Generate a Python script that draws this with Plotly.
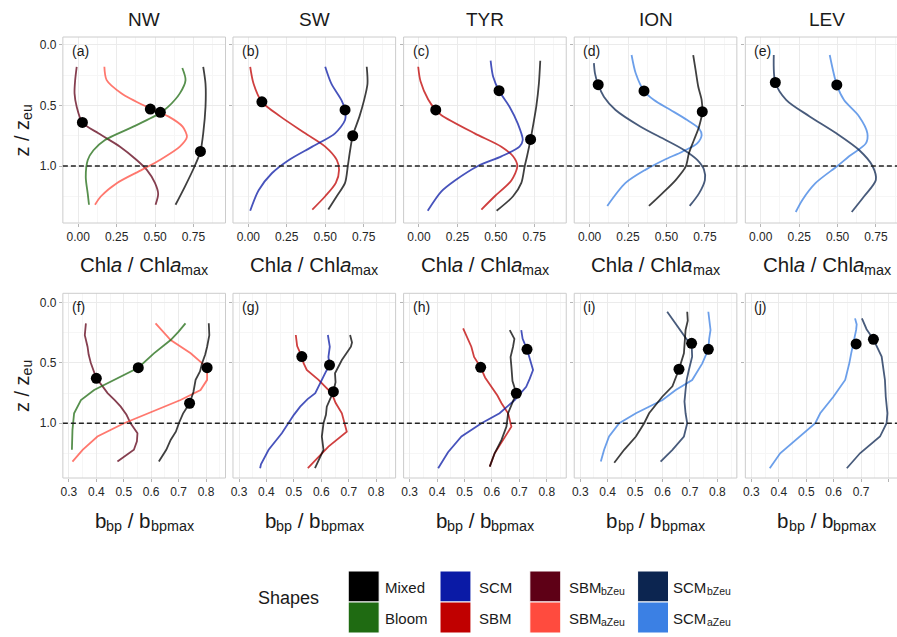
import plotly.graph_objects as go

W, H = 897, 637

# ---------------- categories / labels ----------------
regions = ["NW", "SW", "TYR", "ION", "LEV"]
tags_top = ["(a)", "(b)", "(c)", "(d)", "(e)"]
tags_bot = ["(f)", "(g)", "(h)", "(i)", "(j)"]

shape_names = ["Mixed", "Bloom", "SCM", "SBM", "SBMbZeu", "SBMaZeu", "SCMbZeu", "SCMaZeu"]
# (main text, subscript text) for each legend entry
shape_label_parts = [("Mixed", ""), ("Bloom", ""), ("SCM", ""), ("SBM", ""),
                     ("SBM", "bZeu"), ("SBM", "aZeu"), ("SCM", "bZeu"), ("SCM", "aZeu")]
shape_colors = {
    "Mixed": "#000000", "Bloom": "#1f6b12", "SCM": "#0a1aa6", "SBM": "#c00000",
    "SBMbZeu": "#5e0016", "SBMaZeu": "#ff4b3e", "SCMbZeu": "#0c2550", "SCMaZeu": "#3b80e4",
}

y_ticks = [0.0, 0.5, 1.0]
y_ticktext = ["0.0", "0.5", "1.0"]
x_ticks_top = [0.0, 0.25, 0.5, 0.75]
x_ticktext_top = ["0.00", "0.25", "0.50", "0.75"]
x_ticks_bot = [0.3, 0.4, 0.5, 0.6, 0.7, 0.8]
x_ticktext_bot = ["0.3", "0.4", "0.5", "0.6", "0.7", "0.8"]

# ---------------- Chla / Chla_max profiles (top row) ----------------
# NW (a)
nw_chl_mixed_z = [0.18, 0.32, 0.51, 0.73, 0.88, 1.0, 1.17, 1.32]
nw_chl_mixed_x = [0.813, 0.828, 0.828, 0.813, 0.795, 0.758, 0.694, 0.633]
nw_chl_mixed_dot = (0.795, 0.88)
nw_chl_bloom_z = [0.19, 0.29, 0.40, 0.51, 0.565, 0.675, 0.785, 0.87, 0.95, 1.09, 1.23, 1.32]
nw_chl_bloom_x = [0.677, 0.698, 0.661, 0.586, 0.531, 0.358, 0.174, 0.099, 0.062, 0.049, 0.062, 0.07]
nw_chl_bloom_dot = (0.534, 0.556)
nw_chl_sbma_z = [0.18, 0.29, 0.40, 0.51, 0.59, 0.675, 0.76, 0.84, 0.95, 1.03, 1.14, 1.25, 1.32]
nw_chl_sbma_x = [0.170, 0.185, 0.282, 0.445, 0.586, 0.679, 0.707, 0.661, 0.531, 0.416, 0.253, 0.148, 0.109]
nw_chl_sbma_dot = (0.469, 0.53)
nw_chl_sbmb_z = [0.18, 0.29, 0.40, 0.51, 0.64, 0.73, 0.84, 0.95, 1.03, 1.14, 1.23, 1.32]
nw_chl_sbmb_x = [-0.01, -0.02, -0.024, -0.01, 0.027, 0.131, 0.272, 0.38, 0.445, 0.499, 0.52, 0.503]
nw_chl_sbmb_dot = (0.027, 0.64)

# SW (b)
sw_chl_sbm_z = [0.18, 0.32, 0.47, 0.59, 0.73, 0.84, 0.95, 1.03, 1.14, 1.25, 1.36]
sw_chl_sbm_x = [0.012, 0.034, 0.088, 0.207, 0.37, 0.50, 0.575, 0.59, 0.569, 0.50, 0.416]
sw_chl_sbm_dot = (0.088, 0.47)
sw_chl_scm_z = [0.18, 0.32, 0.46, 0.537, 0.62, 0.73, 0.84, 0.95, 1.06, 1.20, 1.37]
sw_chl_scm_x = [0.50, 0.54, 0.607, 0.629, 0.629, 0.564, 0.416, 0.264, 0.153, 0.067, 0.012]
sw_chl_scm_dot = (0.629, 0.537)
sw_chl_mixed_z = [0.18, 0.32, 0.46, 0.59, 0.75, 0.87, 1.0, 1.14, 1.25, 1.36]
sw_chl_mixed_x = [0.77, 0.775, 0.752, 0.723, 0.679, 0.662, 0.647, 0.629, 0.575, 0.52]
sw_chl_mixed_dot = (0.679, 0.75)

# TYR (c)
tyr_chl_sbm_z = [0.18, 0.30, 0.45, 0.537, 0.58, 0.73, 0.84, 0.92, 1.0, 1.12, 1.25, 1.36]
tyr_chl_sbm_x = [-0.005, 0.01, 0.06, 0.109, 0.146, 0.362, 0.536, 0.612, 0.64, 0.601, 0.493, 0.406]
tyr_chl_sbm_dot = (0.109, 0.537)
tyr_chl_scm_z = [0.13, 0.26, 0.378, 0.51, 0.65, 0.785, 0.84, 0.92, 1.0, 1.12, 1.21, 1.37]
tyr_chl_scm_x = [0.466, 0.482, 0.521, 0.589, 0.643, 0.675, 0.654, 0.536, 0.384, 0.234, 0.146, 0.057]
tyr_chl_scm_dot = (0.521, 0.378)
tyr_chl_mixed_z = [0.13, 0.32, 0.51, 0.675, 0.78, 0.92, 1.0, 1.14, 1.25, 1.37]
tyr_chl_mixed_x = [0.789, 0.78, 0.763, 0.741, 0.726, 0.703, 0.688, 0.666, 0.612, 0.505]
tyr_chl_mixed_dot = (0.726, 0.78)

# ION (d)
ion_chl_scmb_z = [0.15, 0.234, 0.328, 0.427, 0.537, 0.675, 0.785, 0.868, 0.95, 1.03, 1.116, 1.226, 1.33]
ion_chl_scmb_x = [0.028, 0.035, 0.056, 0.093, 0.169, 0.332, 0.495, 0.614, 0.70, 0.744, 0.75, 0.712, 0.651]
ion_chl_scmb_dot = (0.056, 0.328)
ion_chl_scma_z = [0.083, 0.234, 0.38, 0.455, 0.537, 0.62, 0.69, 0.744, 0.813, 0.882, 0.95, 1.03, 1.14, 1.33]
ion_chl_scma_x = [0.273, 0.30, 0.354, 0.419, 0.527, 0.635, 0.712, 0.729, 0.70, 0.603, 0.484, 0.365, 0.234, 0.115]
ion_chl_scma_dot = (0.354, 0.38)
ion_chl_mixed_z = [0.083, 0.21, 0.345, 0.455, 0.551, 0.675, 0.785, 0.895, 1.006, 1.116, 1.226, 1.33]
ion_chl_mixed_x = [0.674, 0.69, 0.707, 0.729, 0.733, 0.712, 0.679, 0.646, 0.625, 0.56, 0.473, 0.386]
ion_chl_mixed_dot = (0.733, 0.551)

# LEV (e)
lev_chl_scmb_z = [0.083, 0.31, 0.455, 0.59, 0.73, 0.868, 1.0, 1.116, 1.25, 1.38]
lev_chl_scmb_x = [0.085, 0.095, 0.167, 0.318, 0.492, 0.64, 0.727, 0.749, 0.673, 0.592]
lev_chl_scmb_dot = (0.095, 0.31)
lev_chl_scma_z = [0.083, 0.33, 0.455, 0.59, 0.73, 0.813, 0.92, 1.0, 1.14, 1.28, 1.38]
lev_chl_scma_x = [0.449, 0.495, 0.542, 0.64, 0.694, 0.684, 0.575, 0.499, 0.358, 0.271, 0.228]
lev_chl_scma_dot = (0.495, 0.33)

# ---------------- bbp / bbp_max profiles (bottom row) ----------------
# NW (f)
nw_bbp_sbmb_z = [0.171, 0.27, 0.365, 0.43, 0.50, 0.627, 0.70, 0.75, 0.81, 0.862, 0.93, 1.0, 1.083, 1.15, 1.22, 1.318]
nw_bbp_sbmb_x = [0.362, 0.358, 0.368, 0.372, 0.38, 0.40, 0.425, 0.441, 0.468, 0.489, 0.51, 0.525, 0.55, 0.548, 0.537, 0.477]
nw_bbp_sbmb_dot = (0.40, 0.627)
nw_bbp_bloom_z = [0.171, 0.24, 0.31, 0.42, 0.539, 0.64, 0.724, 0.807, 0.917, 1.055, 1.22]
nw_bbp_bloom_x = [0.725, 0.70, 0.671, 0.61, 0.553, 0.465, 0.392, 0.344, 0.319, 0.313, 0.311]
nw_bbp_bloom_dot = (0.553, 0.539)
nw_bbp_sbma_z = [0.171, 0.31, 0.42, 0.539, 0.64, 0.724, 0.807, 0.917, 1.0, 1.11, 1.22, 1.318]
nw_bbp_sbma_x = [0.616, 0.671, 0.744, 0.804, 0.804, 0.78, 0.707, 0.586, 0.501, 0.404, 0.35, 0.313]
nw_bbp_sbma_dot = (0.804, 0.539)
nw_bbp_mixed_z = [0.171, 0.27, 0.365, 0.43, 0.50, 0.57, 0.64, 0.74, 0.834, 0.92, 1.0, 1.07, 1.138, 1.22, 1.318]
nw_bbp_mixed_x = [0.81, 0.812, 0.804, 0.797, 0.786, 0.778, 0.762, 0.754, 0.74, 0.716, 0.701, 0.69, 0.671, 0.655, 0.628]
nw_bbp_mixed_dot = (0.74, 0.834)

# SW (g)
sw_bbp_sbm_z = [0.268, 0.36, 0.447, 0.50, 0.558, 0.64, 0.751, 0.83, 0.917, 1.07, 1.194, 1.373]
sw_bbp_sbm_x = [0.507, 0.512, 0.529, 0.535, 0.547, 0.59, 0.638, 0.652, 0.675, 0.693, 0.626, 0.551]
sw_bbp_sbm_dot = (0.529, 0.447)
sw_bbp_scm_z = [0.268, 0.365, 0.45, 0.517, 0.58, 0.64, 0.751, 0.80, 0.862, 0.93, 0.973, 1.083, 1.22, 1.34, 1.373]
sw_bbp_scm_x = [0.624, 0.631, 0.626, 0.63, 0.615, 0.602, 0.578, 0.55, 0.523, 0.50, 0.487, 0.456, 0.408, 0.38, 0.377]
sw_bbp_scm_dot = (0.63, 0.517)
sw_bbp_mixed_z = [0.268, 0.33, 0.365, 0.475, 0.585, 0.66, 0.738, 0.862, 0.93, 1.0, 1.11, 1.22, 1.373]
sw_bbp_mixed_x = [0.705, 0.712, 0.708, 0.675, 0.65, 0.652, 0.644, 0.62, 0.617, 0.608, 0.602, 0.608, 0.577]
sw_bbp_mixed_dot = (0.644, 0.738)

# TYR (h)
tyr_bbp_sbm_z = [0.213, 0.29, 0.365, 0.45, 0.536, 0.62, 0.697, 0.77, 0.834, 0.917, 1.028, 1.138, 1.249, 1.36]
tyr_bbp_sbm_x = [0.495, 0.51, 0.525, 0.535, 0.559, 0.575, 0.598, 0.62, 0.635, 0.659, 0.671, 0.641, 0.61, 0.592]
tyr_bbp_sbm_dot = (0.559, 0.536)
tyr_bbp_mixed_z = [0.227, 0.30, 0.365, 0.45, 0.53, 0.65, 0.751, 0.84, 0.917, 1.028, 1.138, 1.249, 1.36]
tyr_bbp_mixed_x = [0.665, 0.682, 0.677, 0.668, 0.671, 0.675, 0.689, 0.672, 0.659, 0.653, 0.635, 0.61, 0.592]
tyr_bbp_mixed_dot = (0.689, 0.751)
tyr_bbp_scm_z = [0.227, 0.30, 0.387, 0.47, 0.558, 0.63, 0.697, 0.807, 0.917, 1.0, 1.11, 1.24, 1.373]
tyr_bbp_scm_x = [0.707, 0.712, 0.728, 0.74, 0.75, 0.738, 0.725, 0.683, 0.628, 0.562, 0.489, 0.44, 0.404]
tyr_bbp_scm_dot = (0.728, 0.387)

# ION (i)
ion_bbp_scma_z = [0.075, 0.15, 0.226, 0.30, 0.387, 0.503, 0.641, 0.724, 0.807, 0.917, 1.0, 1.11, 1.22, 1.318]
ion_bbp_scma_x = [0.767, 0.772, 0.775, 0.77, 0.767, 0.745, 0.708, 0.648, 0.60, 0.503, 0.442, 0.405, 0.387, 0.375]
ion_bbp_scma_dot = (0.767, 0.387)
ion_bbp_mixed_z = [0.075, 0.15, 0.226, 0.32, 0.42, 0.552, 0.694, 0.78, 0.917, 1.0, 1.11, 1.22, 1.327]
ion_bbp_mixed_x = [0.69, 0.692, 0.684, 0.682, 0.678, 0.66, 0.636, 0.599, 0.551, 0.533, 0.503, 0.46, 0.424]
ion_bbp_mixed_dot = (0.66, 0.552)
ion_bbp_scmb_z = [0.075, 0.199, 0.31, 0.337, 0.447, 0.558, 0.64, 0.724, 0.82, 0.917, 1.0, 1.11, 1.22, 1.318]
ion_bbp_scmb_x = [0.617, 0.654, 0.69, 0.706, 0.708, 0.696, 0.688, 0.684, 0.68, 0.684, 0.69, 0.678, 0.636, 0.593]
ion_bbp_scmb_dot = (0.706, 0.337)

# LEV (j)
lev_bbp_scma_z = [0.13, 0.18, 0.226, 0.342, 0.42, 0.503, 0.641, 0.78, 0.917, 1.0, 1.11, 1.249, 1.373]
lev_bbp_scma_x = [0.678, 0.684, 0.682, 0.67, 0.664, 0.657, 0.642, 0.599, 0.551, 0.533, 0.478, 0.405, 0.367]
lev_bbp_scma_dot = (0.682, 0.342)
lev_bbp_scmb_z = [0.13, 0.22, 0.304, 0.447, 0.641, 0.78, 0.917, 1.0, 1.11, 1.249, 1.373]
lev_bbp_scmb_x = [0.703, 0.72, 0.745, 0.775, 0.787, 0.79, 0.796, 0.793, 0.769, 0.696, 0.648]
lev_bbp_scmb_dot = (0.745, 0.304)

# table built from the named arrays: panel index -> list of (shape, z, x, dot)
panels = {
    1: [("SBMbZeu", nw_chl_sbmb_z, nw_chl_sbmb_x, nw_chl_sbmb_dot),
        ("SBMaZeu", nw_chl_sbma_z, nw_chl_sbma_x, nw_chl_sbma_dot),
        ("Bloom", nw_chl_bloom_z, nw_chl_bloom_x, nw_chl_bloom_dot),
        ("Mixed", nw_chl_mixed_z, nw_chl_mixed_x, nw_chl_mixed_dot)],
    2: [("SBM", sw_chl_sbm_z, sw_chl_sbm_x, sw_chl_sbm_dot),
        ("SCM", sw_chl_scm_z, sw_chl_scm_x, sw_chl_scm_dot),
        ("Mixed", sw_chl_mixed_z, sw_chl_mixed_x, sw_chl_mixed_dot)],
    3: [("SBM", tyr_chl_sbm_z, tyr_chl_sbm_x, tyr_chl_sbm_dot),
        ("SCM", tyr_chl_scm_z, tyr_chl_scm_x, tyr_chl_scm_dot),
        ("Mixed", tyr_chl_mixed_z, tyr_chl_mixed_x, tyr_chl_mixed_dot)],
    4: [("SCMaZeu", ion_chl_scma_z, ion_chl_scma_x, ion_chl_scma_dot),
        ("SCMbZeu", ion_chl_scmb_z, ion_chl_scmb_x, ion_chl_scmb_dot),
        ("Mixed", ion_chl_mixed_z, ion_chl_mixed_x, ion_chl_mixed_dot)],
    5: [("SCMaZeu", lev_chl_scma_z, lev_chl_scma_x, lev_chl_scma_dot),
        ("SCMbZeu", lev_chl_scmb_z, lev_chl_scmb_x, lev_chl_scmb_dot)],
    6: [("SBMbZeu", nw_bbp_sbmb_z, nw_bbp_sbmb_x, nw_bbp_sbmb_dot),
        ("SBMaZeu", nw_bbp_sbma_z, nw_bbp_sbma_x, nw_bbp_sbma_dot),
        ("Bloom", nw_bbp_bloom_z, nw_bbp_bloom_x, nw_bbp_bloom_dot),
        ("Mixed", nw_bbp_mixed_z, nw_bbp_mixed_x, nw_bbp_mixed_dot)],
    7: [("SBM", sw_bbp_sbm_z, sw_bbp_sbm_x, sw_bbp_sbm_dot),
        ("SCM", sw_bbp_scm_z, sw_bbp_scm_x, sw_bbp_scm_dot),
        ("Mixed", sw_bbp_mixed_z, sw_bbp_mixed_x, sw_bbp_mixed_dot)],
    8: [("SBM", tyr_bbp_sbm_z, tyr_bbp_sbm_x, tyr_bbp_sbm_dot),
        ("SCM", tyr_bbp_scm_z, tyr_bbp_scm_x, tyr_bbp_scm_dot),
        ("Mixed", tyr_bbp_mixed_z, tyr_bbp_mixed_x, tyr_bbp_mixed_dot)],
    9: [("SCMaZeu", ion_bbp_scma_z, ion_bbp_scma_x, ion_bbp_scma_dot),
        ("SCMbZeu", ion_bbp_scmb_z, ion_bbp_scmb_x, ion_bbp_scmb_dot),
        ("Mixed", ion_bbp_mixed_z, ion_bbp_mixed_x, ion_bbp_mixed_dot)],
    10: [("SCMaZeu", lev_bbp_scma_z, lev_bbp_scma_x, lev_bbp_scma_dot),
         ("SCMbZeu", lev_bbp_scmb_z, lev_bbp_scmb_x, lev_bbp_scmb_dot)],
}

# ---------------- geometry (pixels) ----------------
FONT = "Liberation Sans, Arial, Helvetica, sans-serif"
col_left = [61, 231.5, 402.5, 573.5, 745]
panel_w = 163
row_top = {0: (37, 223), 1: (293.3, 478)}
x_range = {0: (-0.10, 0.958), 1: (0.278, 0.871)}
y_range = {0: (1.471, -0.066), 1: (1.454, -0.078)}
TXT = "#1a1a1a"
NB = "\u00a0"

# Arial / Liberation Sans advance widths (per 1000 em)
ADV = {"C": 722, "h": 556, "l": 222, "a": 556, " ": 278, NB: 278, "/": 278, "m": 833, "x": 500,
       "b": 556, "p": 556, "z": 500, "e": 556, "u": 556, "S": 667, "B": 667, "M": 833, "Z": 611,
       "i": 222, "d": 556, "o": 556}


def text_w(s, size):
    import re
    plain = re.sub(r"<[^>]+>", "", s)
    return sum(ADV.get(ch, 556) for ch in plain) * size / 1000.0


def px_x(p):
    return p / W


def px_y(p):
    return 1 - p / H


annotations = []


def rich_label(parts, cx, cy, size, sub_ratio=0.7, sub_drop=5.5, anchor="center", rotate=False):
    """parts: list of (text, is_sub). Places pieces side by side as plain annotations."""
    sub_size = size * sub_ratio
    widths = [text_w(t, sub_size if s else size) for t, s in parts]
    total = sum(widths)
    start = (cx - total / 2.0) if anchor == "center" else cx
    pos = start
    for (t, s), w in zip(parts, widths):
        fs = sub_size if s else size
        drop = sub_drop if s else 0.0
        if not rotate:
            annotations.append(dict(text=t, x=px_x(pos), y=px_y(cy + drop), xref="paper", yref="paper",
                                    xanchor="left", yanchor="middle", showarrow=False,
                                    borderpad=0, borderwidth=0, font=dict(size=fs, color=TXT)))
        else:
            # text reads bottom-to-top; 'pos' runs upward from the bottom
            y_bottom = cy + total / 2.0 - (pos - start)
            annotations.append(dict(text=t, x=px_x(cx_rot + drop), y=px_y(y_bottom), xref="paper",
                                    yref="paper", xanchor="center", yanchor="bottom", textangle=-90,
                                    showarrow=False, borderpad=0, borderwidth=0,
                                    font=dict(size=fs, color=TXT)))
        pos += w


fig = go.Figure()
layout = dict(
    width=W, height=H, autosize=False,
    margin=dict(l=0, r=0, t=0, b=0),
    paper_bgcolor="white", plot_bgcolor="white",
    showlegend=False,
    font=dict(family=FONT, color=TXT, size=12),
)
shapes = []

for i in range(1, 11):
    row = 0 if i <= 5 else 1
    col = (i - 1) % 5
    L = col_left[col]
    R = L + panel_w
    r0, r1 = x_range[row]
    if R > W:
        r1 = r0 + (r1 - r0) * (W - L) / panel_w
        R = W
    top, bot = row_top[row]
    xs = "" if i == 1 else str(i)
    if row == 0:
        xt, xtt, xminor = x_ticks_top, x_ticktext_top, [0.125, 0.375, 0.625, 0.875]
    else:
        xt, xtt, xminor = x_ticks_bot, x_ticktext_bot, [0.35, 0.45, 0.55, 0.65, 0.75, 0.85]
    layout["xaxis" + xs] = dict(
        domain=[px_x(L), px_x(R)], range=[r0, r1], anchor="y" + xs,
        tickvals=xt, ticktext=xtt, ticks="outside", ticklen=3, tickcolor="#b5b5b5",
        showgrid=True, gridcolor="#ebebeb", gridwidth=1, zeroline=False, showline=False,
        minor=dict(tickvals=xminor, showgrid=True, gridcolor="#f6f6f6", ticks=""),
        tickfont=dict(size=12, color="#262626", family=FONT), fixedrange=True,
    )
    layout["yaxis" + xs] = dict(
        domain=[px_y(bot), px_y(top)], range=list(y_range[row]), anchor="x" + xs,
        tickvals=y_ticks, ticktext=y_ticktext, ticks="outside", ticklen=3, tickcolor="#b5b5b5",
        showticklabels=(col == 0),
        showgrid=True, gridcolor="#ebebeb", gridwidth=1, zeroline=False, showline=False,
        minor=dict(tickvals=[0.25, 0.75, 1.25], showgrid=True, gridcolor="#f6f6f6", ticks=""),
        tickfont=dict(size=12, color="#262626", family=FONT), fixedrange=True,
    )
    # panel border
    shapes.append(dict(type="rect", xref="x" + xs + " domain", yref="y" + xs + " domain",
                       x0=0, x1=1 if R < W else 1.05, y0=0, y1=1,
                       line=dict(color="#cccccc", width=1), layer="above"))
    # traces
    for name, zz, xx, dot in panels[i]:
        fig.add_trace(go.Scatter(
            x=xx, y=zz, mode="lines", xaxis="x" + xs, yaxis="y" + xs,
            line=dict(color=shape_colors[name], width=1.8,
                      shape="spline" if row == 0 else "linear", smoothing=0.8),
            opacity=0.75, hoverinfo="skip"))
    for name, zz, xx, dot in panels[i]:
        fig.add_trace(go.Scatter(
            x=[dot[0]], y=[dot[1]], mode="markers", xaxis="x" + xs, yaxis="y" + xs,
            marker=dict(color="black", size=11), hoverinfo="skip"))
    # panel tag
    tag = tags_top[col] if row == 0 else tags_bot[col]
    annotations.append(dict(text=tag, x=px_x(L + 7), y=px_y(top + 4), xref="paper", yref="paper",
                            xanchor="left", yanchor="top", showarrow=False,
                            font=dict(size=14, color=TXT)))
    # column titles & x-axis titles
    cxp = L + panel_w / 2
    if row == 0:
        annotations.append(dict(text=regions[col], x=px_x(cxp), y=px_y(20), xref="paper", yref="paper",
                                xanchor="center", yanchor="middle", showarrow=False,
                                font=dict(size=19, color=TXT)))
        rich_label([("Chl<i>a</i>" + NB + "/" + NB + "Chl<i>a</i>", False), ("max", True)],
                   cxp, 264, 20.5)
    else:
        rich_label([("b", False), ("bp", True), (NB + "/" + NB + "b", False), ("bpmax", True)],
                   cxp, 520, 20.5)

# dashed z = z_eu lines across each row
for yref in ("y", "y6"):
    shapes.append(dict(type="line", xref="paper", yref=yref, x0=px_x(61), x1=1.0, y0=1.0, y1=1.0,
                       line=dict(color="#222222", width=1.6, dash="5px,3px"), layer="above"))

# y-axis titles (rotated, built from pieces)
cx_rot = 20
for yc in (130, 385.5):
    rich_label([("z" + NB + "/" + NB + "z", False), ("eu", True)], cx_rot, yc, 20, rotate=True)

# ---------------- legend (drawn) ----------------
annotations.append(dict(text="Shapes", x=px_x(287), y=px_y(598), xref="paper", yref="paper",
                        xanchor="center", yanchor="middle", showarrow=False,
                        font=dict(size=18, color=TXT)))
leg_cols = [(347, 384), (439, 478), (529, 568), (637, 673)]
for k, name in enumerate(shape_names):
    c, r = k // 2, k % 2
    sx, tx = leg_cols[c]
    y0 = 571 + r * 31
    shapes.append(dict(type="rect", xref="paper", yref="paper",
                       x0=px_x(sx), x1=px_x(sx + 31), y0=px_y(y0 + 31), y1=px_y(y0),
                       fillcolor=shape_colors[name], line=dict(color="white", width=1)))
    main, sub = shape_label_parts[k]
    parts = [(main, False)] + ([(sub, True)] if sub else [])
    rich_label(parts, tx, y0 + 16, 15, sub_drop=4, anchor="left")

layout["shapes"] = shapes
layout["annotations"] = annotations
fig.update_layout(**layout)
fig.write_html("out.html")
